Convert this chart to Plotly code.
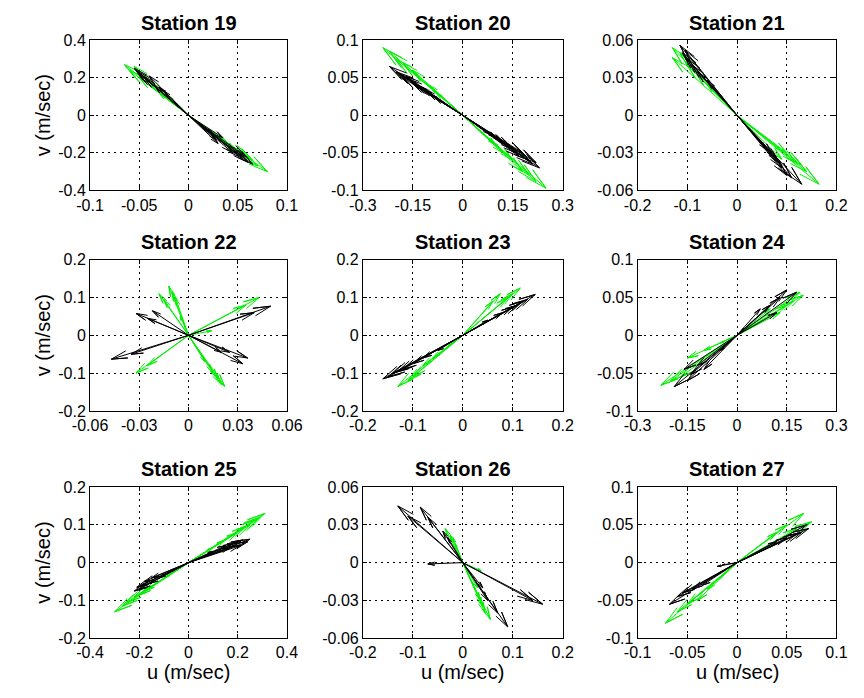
import plotly.graph_objects as go

# ---------------- data: vector tips (u, v) in m/sec ----------------
stations = ["Station 19", "Station 20", "Station 21",
            "Station 22", "Station 23", "Station 24",
            "Station 25", "Station 26", "Station 27"]

# axis limits and tick step for each station
x_limits = [0.1, 0.3, 0.2, 0.06, 0.2, 0.3, 0.4, 0.2, 0.1]
x_steps = [0.05, 0.15, 0.1, 0.03, 0.1, 0.15, 0.2, 0.1, 0.05]
y_limits = [0.4, 0.1, 0.06, 0.2, 0.2, 0.1, 0.2, 0.06, 0.1]
y_steps = [0.2, 0.05, 0.03, 0.1, 0.1, 0.05, 0.1, 0.03, 0.05]

u_black_19 = [-0.055, -0.05, -0.045, -0.03, -0.025, -0.035, -0.015, -0.04, -0.052, 0.03, 0.025, 0.035, 0.055, 0.06, 0.05, 0.065, 0.045, 0.01, 0.058, 0.028]
v_black_19 = [0.25, 0.22, 0.2, 0.15, 0.13, 0.16, 0.07, 0.21, 0.235, -0.15, -0.1, -0.12, -0.23, -0.25, -0.21, -0.26, -0.2, -0.04, -0.22, -0.13]
u_green_19 = [-0.065, -0.06, -0.04, -0.03, -0.05, -0.055, 0.08, 0.07, 0.06, 0.04, 0.05, 0.03, -0.02, 0.065]
v_green_19 = [0.27, 0.24, 0.18, 0.12, 0.2, 0.26, -0.3, -0.27, -0.22, -0.15, -0.2, -0.12, 0.1, -0.24]

u_black_20 = [-0.22, -0.2, -0.18, -0.16, -0.14, -0.12, -0.1, -0.08, -0.19, -0.15, -0.17, -0.13, -0.11, 0.08, 0.1, 0.12, 0.15, 0.18, 0.2, 0.23, 0.21, 0.19, 0.16, 0.14, 0.17, 0.22]
v_black_20 = [0.065, 0.058, 0.05, 0.048, 0.04, 0.035, 0.028, 0.022, 0.055, 0.042, 0.052, 0.038, 0.033, -0.025, -0.03, -0.035, -0.045, -0.05, -0.06, -0.07, -0.065, -0.055, -0.05, -0.04, -0.055, -0.063]
u_green_20 = [-0.24, -0.2, -0.15, -0.1, -0.08, -0.18, -0.22, 0.1, 0.15, 0.2, 0.25, 0.18, 0.12, 0.22]
v_green_20 = [0.09, 0.075, 0.06, 0.04, 0.03, 0.07, 0.085, -0.04, -0.06, -0.08, -0.097, -0.075, -0.05, -0.088]

u_black_21 = [-0.115, -0.11, -0.1, -0.09, -0.08, -0.06, -0.105, 0.06, 0.08, 0.09, 0.1, 0.13, 0.11, 0.07, 0.085]
v_black_21 = [0.056, 0.05, 0.045, 0.04, 0.035, 0.028, 0.052, -0.028, -0.035, -0.042, -0.048, -0.055, -0.05, -0.03, -0.038]
u_green_21 = [-0.13, -0.13, -0.1, -0.08, -0.06, -0.115, 0.1, 0.12, 0.14, 0.165, 0.13, 0.09]
v_green_21 = [0.054, 0.046, 0.04, 0.032, 0.025, 0.05, -0.03, -0.038, -0.045, -0.055, -0.04, -0.035]

u_black_22 = [0.05, 0.04, -0.047, -0.035, -0.032, -0.025, 0.036, 0.025, -0.022, 0.033, 0.02]
v_black_22 = [0.077, 0.06, -0.063, -0.05, 0.058, 0.045, -0.06, -0.045, 0.065, -0.075, -0.045]
u_green_22 = [0.043, 0.035, -0.032, -0.025, -0.012, -0.018, -0.01, -0.008, -0.015, 0.02, 0.022, 0.018, 0.015, 0.01, 0.014, -0.005]
v_green_22 = [0.1, 0.08, -0.1, -0.08, 0.13, 0.11, 0.115, 0.1, 0.095, -0.13, -0.135, -0.115, -0.1, -0.07, 0.012, 0.05]

u_black_23 = [0.145, 0.12, 0.1, 0.08, 0.13, 0.05, 0.11, -0.16, -0.14, -0.12, -0.1, -0.08, -0.05, -0.15, -0.13]
v_black_23 = [0.108, 0.09, 0.075, 0.06, 0.095, 0.04, 0.08, -0.115, -0.1, -0.09, -0.075, -0.06, -0.04, -0.11, -0.095]
u_green_23 = [0.115, 0.1, 0.075, 0.06, 0.09, -0.13, -0.1, -0.08, -0.06, -0.03, -0.11]
v_green_23 = [0.125, 0.11, 0.11, 0.09, 0.1, -0.135, -0.11, -0.08, -0.06, -0.03, -0.12]

u_black_24 = [0.15, 0.13, 0.18, 0.1, 0.07, 0.12, 0.02, -0.19, -0.15, -0.16, -0.12, -0.1, -0.05, -0.14]
v_black_24 = [0.06, 0.05, 0.057, 0.04, 0.035, 0.03, 0.01, -0.068, -0.06, -0.045, -0.04, -0.045, -0.02, -0.052]
u_green_24 = [0.2, 0.19, 0.17, 0.15, 0.13, 0.1, -0.23, -0.2, -0.17, -0.15, -0.1, -0.05]
v_green_24 = [0.053, 0.057, 0.045, 0.04, 0.03, 0.035, -0.066, -0.06, -0.055, -0.03, -0.02, -0.01]

u_black_25 = [0.25, 0.22, 0.2, 0.18, 0.15, 0.1, 0.24, 0.21, 0.17, -0.22, -0.2, -0.18, -0.15, -0.12, -0.08, -0.19, -0.16, -0.21]
v_black_25 = [0.062, 0.06, 0.055, 0.05, 0.045, 0.03, 0.055, 0.045, 0.04, -0.075, -0.07, -0.05, -0.04, -0.04, -0.025, -0.06, -0.055, -0.065]
u_green_25 = [0.31, 0.28, 0.25, 0.2, 0.15, 0.1, 0.29, 0.23, -0.3, -0.27, -0.22, -0.18, -0.1, -0.25, -0.2]
v_green_25 = [0.13, 0.115, 0.1, 0.08, 0.06, 0.04, 0.12, 0.095, -0.13, -0.115, -0.09, -0.075, -0.04, -0.105, -0.085]

u_black_26 = [-0.13, -0.085, 0.16, 0.09, -0.07, -0.04, -0.03, 0.04, 0.05, 0.14, 0.07, -0.11, -0.07]
v_black_26 = [0.045, 0.044, -0.033, -0.051, -0.001, 0.025, 0.02, -0.02, -0.03, -0.03, -0.04, 0.037, 0.036]
u_green_26 = [-0.035, -0.025, -0.02, 0.055, 0.04, 0.035, 0.03, 0.045, -0.015, 0.037]
v_green_26 = [0.027, 0.022, 0.02, -0.045, -0.035, -0.03, -0.02, -0.04, 0.015, -0.0065]

u_black_27 = [0.07, 0.072, 0.065, 0.06, 0.05, 0.04, -0.068, -0.06, -0.055, -0.045, -0.035, -0.02, -0.015]
v_black_27 = [0.05, 0.045, 0.04, 0.038, 0.033, 0.028, -0.055, -0.045, -0.04, -0.035, -0.03, -0.005, -0.003]
u_green_27 = [0.067, 0.075, 0.05, 0.04, 0.06, -0.072, -0.06, -0.05, -0.04, -0.03]
v_green_27 = [0.065, 0.054, 0.05, 0.04, 0.045, -0.08, -0.065, -0.055, -0.05, -0.035]

black_u = [u_black_19, u_black_20, u_black_21, u_black_22, u_black_23, u_black_24, u_black_25, u_black_26, u_black_27]
black_v = [v_black_19, v_black_20, v_black_21, v_black_22, v_black_23, v_black_24, v_black_25, v_black_26, v_black_27]
green_u = [u_green_19, u_green_20, u_green_21, u_green_22, u_green_23, u_green_24, u_green_25, u_green_26, u_green_27]
green_v = [v_green_19, v_green_20, v_green_21, v_green_22, v_green_23, v_green_24, v_green_25, v_green_26, v_green_27]

# ---------------- layout geometry (pixels) ----------------
W, H = 864, 698
col_px = [(75, 280), (359, 567), (645, 852)]
row_px = [(33, 187), (258, 413), (491, 646)]

FONT = "Liberation Sans, Arial, Helvetica, sans-serif"
BLACK = "#000000"
GREEN = "#00f000"


def fmt(v):
    v = round(v, 6)
    if abs(v) < 1e-12:
        return "0"
    return f"{v:g}"


def ticks(lim, step):
    n = int(round(lim / step))
    vals = [round(k * step, 6) for k in range(-n, n + 1)]
    return vals, [fmt(v) for v in vals]


def compass(us, vs, sx, sy):
    X, Y = [], []
    for u, v in zip(us, vs):
        dx, dy = u * sx, v * sy
        bx, by = 0.8 * dx, 0.8 * dy
        px, py = -0.045 * dy, 0.045 * dx
        X += [0, u, (bx + px) / sx, u, (bx - px) / sx, None]
        Y += [0, v, (by + py) / sy, v, (by - py) / sy, None]
    return X, Y


fig = go.Figure()
annotations = []

for i in range(9):
    r, c = divmod(i, 3)
    x0, x1 = col_px[c]
    y0, y1 = row_px[r]
    ax = "" if i == 0 else str(i + 1)
    xl, yl = x_limits[i], y_limits[i]
    sx = (x1 - x0) / (2 * xl)
    sy = (y1 - y0) / (2 * yl)

    for us, vs, col in ((green_u[i], green_v[i], GREEN), (black_u[i], black_v[i], BLACK)):
        X, Y = compass(us, vs, sx, sy)
        fig.add_trace(go.Scatter(x=X, y=Y, mode="lines", line=dict(color=col, width=1),
                                 xaxis="x" + ax, yaxis="y" + ax, showlegend=False,
                                 hoverinfo="skip"))

    xv, xt = ticks(xl, x_steps[i])
    yv, yt = ticks(yl, y_steps[i])
    common = dict(showline=True, linecolor=BLACK, linewidth=1, mirror="ticks",
                  ticks="inside", ticklen=4, tickcolor=BLACK,
                  showgrid=True, gridcolor=BLACK, gridwidth=1, griddash="2px,4px",
                  zeroline=False, tickfont=dict(family=FONT, size=16, color=BLACK))
    fig.update_layout(**{
        "xaxis" + ax: dict(domain=[x0 / W, x1 / W], range=[-xl, xl], anchor="y" + ax,
                           tickvals=xv, ticktext=xt, **common),
        "yaxis" + ax: dict(domain=[1 - y1 / H, 1 - y0 / H], range=[-yl, yl], anchor="x" + ax,
                           tickvals=yv, ticktext=yt, **common),
    })

    annotations.append(dict(text="<b>" + stations[i] + "</b>", xref="paper", yref="paper",
                            x=(x0 + x1) / 2 / W, y=1 - (y0 - 18) / H, xanchor="center",
                            yanchor="middle", showarrow=False,
                            font=dict(family=FONT, size=20, color=BLACK)))
    if c == 0:
        annotations.append(dict(text="v (m/sec)", xref="paper", yref="paper",
                                x=26 / W, y=1 - (y0 + y1) / 2 / H, xanchor="center",
                                yanchor="middle", textangle=-90, showarrow=False,
                                font=dict(family=FONT, size=20, color=BLACK)))
    if r == 2:
        annotations.append(dict(text="u (m/sec)", xref="paper", yref="paper",
                                x=(x0 + x1) / 2 / W, y=1 - 681 / H, xanchor="center",
                                yanchor="middle", showarrow=False,
                                font=dict(family=FONT, size=20, color=BLACK)))

fig.update_layout(width=W, height=H, autosize=False,
                  margin=dict(l=0, r=0, t=0, b=0),
                  paper_bgcolor="white", plot_bgcolor="white",
                  annotations=annotations, showlegend=False)

fig.write_html("out.html")
